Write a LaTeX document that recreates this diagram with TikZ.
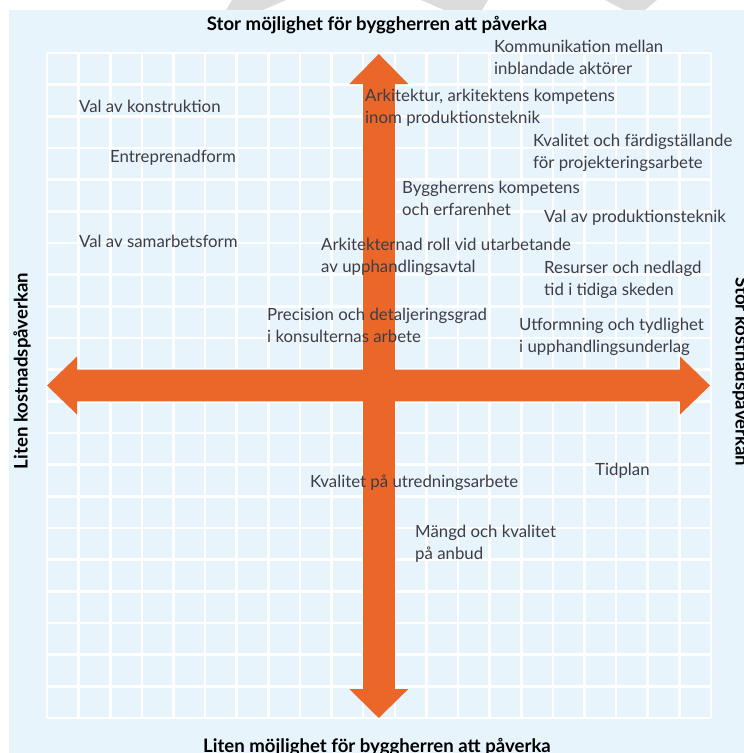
\documentclass[tikz,border=0pt]{standalone}
\usepackage{fontspec}
\setmainfont{Lato}
\definecolor{bgblue}{HTML}{E7F4FC}
\definecolor{arroworange}{HTML}{EA6629}
\definecolor{labelgray}{HTML}{3E3D45}
\definecolor{wmgray}{HTML}{DCDCDC}
\newcommand{\twolines}[2]{\vtop{\baselineskip=22pt\hbox{#1}\hbox{#2}}}
\tikzset{
  gridline/.style={draw=white, line width=2.6pt},
  orangearrow/.style={fill=arroworange},
  lbl/.style={anchor=base west, inner sep=0pt, text=labelgray, font=\fontsize{16.8}{22}\selectfont},
  axistitle/.style={inner sep=0pt, text=black, font=\fontsize{18.6}{22}\selectfont\bfseries},
}
\begin{document}
\begin{tikzpicture}[x=1pt,y=-1pt]
\useasboundingbox (0,0) rectangle (744,753);
\clip (0,0) rectangle (744,753);
% faint watermark pieces above the panel
\fill[wmgray] (232,0) -- (286,0) -- (263,10) -- (226,10) -- cycle;
\fill[wmgray] (421,0) -- (488,0) -- (482,10) -- (444,10) -- cycle;
\fill[wmgray] (605,0) -- (657,0) -- (645,10) -- (624,10) -- cycle;
% panel
\fill[bgblue] (9,10) rectangle (744,753);
% grid 21 x 21
\foreach \i in {0,...,21}{
  \draw[gridline] ({47+\i*664/21},53) -- ++(0,665);
  \draw[gridline] (47,{53+\i*665/21}) -- ++(664,0);
}
% arrows
\fill[orangearrow] (47,385.5) -- (77,356.5) -- (77,369.7) -- (680,369.7) -- (680,356.5)
  -- (710,385.5) -- (680,414.5) -- (680,401.3) -- (77,401.3) -- (77,414.5) -- cycle;
\fill[orangearrow] (378.8,54) -- (408.3,84) -- (394.8,84) -- (394.8,689) -- (408.3,689)
  -- (378.8,718) -- (349.3,689) -- (363.2,689) -- (363.2,84) -- (349.3,84) -- cycle;
% axis titles
\node[axistitle, anchor=base] (top) at (377,30) {Stor möjlighet för byggherren att påverka};
\node[axistitle, anchor=base] (bottom) at (377,752) {Liten möjlighet för byggherren att påverka};
\node[axistitle, anchor=base, rotate=90] (left) at (27.5,371) {Liten kostnadspåverkan};
\node[axistitle, anchor=base, rotate=-90] (right) at (735.5,372) {Stor kostnadspåverkan};
% labels
\node[lbl] (kom) at (494,52) {\twolines{Kommunikation mellan}{inblandade aktörer}};
\node[lbl] (ark) at (365,101) {\twolines{Arkitektur, arkitektens kompetens}{inom produktionsteknik}};
\node[lbl] (valk) at (79,112) {Val av konstruktion};
\node[lbl] (entr) at (110,162) {Entreprenadform};
\node[lbl] (kvalf) at (533,146.5) {\twolines{Kvalitet och färdigställande}{för projekteringsarbete}};
\node[lbl] (bygg) at (402,193) {\twolines{Byggherrens kompetens}{och erfarenhet}};
\node[lbl] (valp) at (544,222) {Val av produktionsteknik};
\node[lbl] (valsam) at (79,247) {Val av samarbetsform};
\node[lbl] (arkroll) at (321,250) {\twolines{Arkitekternad roll vid utarbetande}{av upphandlingsavtal}};
\node[lbl] (res) at (544,273) {\twolines{Resurser och nedlagd}{tid i tidiga skeden}};
\node[lbl] (prec) at (267,320) {\twolines{Precision och detaljeringsgrad}{i konsulternas arbete}};
\node[lbl] (utf) at (519,330) {\twolines{Utformning och tydlighet}{i upphandlingsunderlag}};
\node[lbl] (kvalu) at (310,487) {Kvalitet på utredningsarbete};
\node[lbl] (tid) at (595,475) {Tidplan};
\node[lbl] (mangd) at (415,537) {\twolines{Mängd och kvalitet}{på anbud}};
\end{tikzpicture}
\end{document}
